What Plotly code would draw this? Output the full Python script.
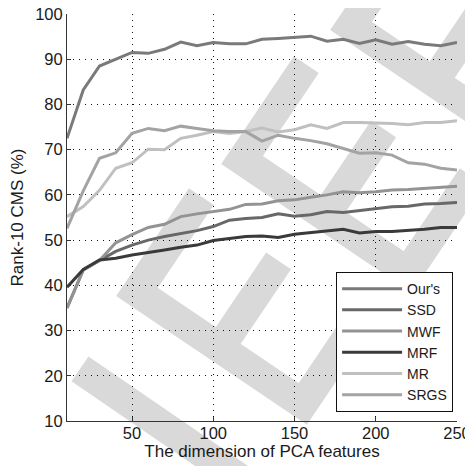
import math
import plotly.graph_objects as go

dims = [10, 20, 30, 40, 50, 60, 70, 80, 90, 100, 110, 120, 130,
        140, 150, 160, 170, 180, 190, 200, 210, 220, 230, 240, 250]

ours = [72.5, 83.2, 88.5, 90.0, 91.5, 91.3, 92.2, 93.8, 93.0, 93.7, 93.4, 93.4, 94.4,
        94.6, 94.8, 95.1, 94.0, 94.4, 93.5, 94.3, 93.3, 93.9, 93.3, 93.0, 93.7]
ssd = [35.0, 43.4, 45.5, 47.5, 48.9, 50.0, 50.8, 51.5, 52.1, 53.0, 54.4, 54.8, 55.0,
       55.8, 55.3, 55.6, 56.3, 56.1, 56.5, 57.0, 57.4, 57.5, 58.0, 58.1, 58.3]
mwf = [35.0, 43.4, 45.5, 49.4, 51.2, 52.8, 53.5, 55.2, 55.8, 56.3, 56.8, 57.9, 58.0,
       58.7, 58.9, 59.5, 60.0, 60.7, 60.5, 60.7, 61.1, 61.2, 61.4, 61.7, 61.9]
mrf = [39.6, 43.5, 45.6, 46.0, 46.7, 47.2, 47.8, 48.4, 48.9, 49.9, 50.4, 50.8, 50.9,
       50.6, 51.3, 51.7, 52.1, 52.4, 51.6, 51.9, 51.9, 52.1, 52.4, 52.8, 52.8]
mr = [55.2, 57.4, 61.0, 65.9, 67.1, 70.1, 70.0, 72.5, 73.2, 74.0, 73.6, 74.0, 74.8,
      73.9, 74.4, 75.5, 74.7, 76.0, 76.0, 75.9, 75.8, 75.5, 76.0, 76.0, 76.4]
srgs = [52.6, 60.9, 68.1, 69.3, 73.6, 74.7, 74.2, 75.2, 74.7, 74.2, 74.0, 74.0, 71.9,
        73.2, 72.5, 72.0, 71.3, 70.3, 69.2, 69.3, 68.8, 67.1, 66.8, 65.9, 65.5]

names = ["Our's", "SSD", "MWF", "MRF", "MR", "SRGS"]
series = [ours, ssd, mwf, mrf, mr, srgs]
colors = ["#7a7a7a", "#686868", "#939393", "#3a3a3a", "#c0c0c0", "#a3a3a3"]

x_ticks = [50, 100, 150, 200, 250]
y_ticks = [10, 20, 30, 40, 50, 60, 70, 80, 90, 100]

# ---- decorative "IEEE" watermark in page pixels (not data) ----
PX0, PX1, PY0, PY1 = 67, 457, 14, 421   # plot area in page pixels
ang_s = math.radians(34)
S = (math.cos(ang_s), math.sin(ang_s))          # spine direction
A = (math.cos(ang_s - math.pi / 2), math.sin(ang_s - math.pi / 2))  # arm direction
SPINE, ARM, MID = 200, 115, 105
e_corners = [(351, 26), (242, 160), (137, 292)]
i_stroke = [(80, 369), (245, 482)]


def mv(p, d, t):
    return (p[0] + d[0] * t, p[1] + d[1] * t)


strokes = []
for k in e_corners:
    bot = mv(k, S, SPINE)
    strokes.append([mv(k, A, ARM), k, bot, mv(bot, A, ARM)])
    mid = mv(k, S, SPINE / 2)
    strokes.append([mid, mv(mid, A, MID)])
strokes.append(i_stroke)


def to_paper(pt):
    X, Y = pt
    return (X - PX0) / (PX1 - PX0), (PY1 - Y) / (PY1 - PY0)


shapes = []
for st in strokes:
    pts = [to_paper(p) for p in st]
    path = "M" + " L".join(f"{x:.4f},{y:.4f}" for x, y in pts)
    shapes.append(dict(type="path", xref="paper", yref="paper", path=path,
                       line=dict(color="#d9d9d9", width=30), layer="below"))

fig = go.Figure()
for name, vals, col in zip(names, series, colors):
    fig.add_trace(go.Scatter(x=dims, y=vals, mode="lines", name=name,
                             line=dict(color=col, width=3)))

font = "Liberation Sans, Arial, sans-serif"
axis_common = dict(ticks="inside", ticklen=4, tickcolor="#333", showline=True,
                   linecolor="#333", linewidth=1, showgrid=True, gridcolor="#111",
                   gridwidth=1, griddash="1px,5px", zeroline=False,
                   tickfont=dict(size=16.5), automargin=False,
                   ticklabeloverflow="allow")
fig.update_layout(
    width=465, height=458,
    margin=dict(l=59, r=16, t=6, b=45),
    paper_bgcolor="white", plot_bgcolor="white",
    font=dict(family=font, size=16, color="#1a1a1a"),
    showlegend=True,
    shapes=shapes,
    legend=dict(x=0.69, y=0.022, xanchor="left", yanchor="bottom",
                bgcolor="white", bordercolor="#111111", borderwidth=1,
                font=dict(size=14, color="#1a1a1a"),
                itemwidth=60, tracegroupgap=0),
    xaxis=dict(range=[10, 250], tickvals=x_ticks, ticklabelstandoff=-3, **axis_common,
               title=dict(text="The dimension of PCA features", font=dict(size=17), standoff=2)),
    yaxis=dict(range=[10, 100], tickvals=y_ticks, **axis_common,
               title=dict(text="Rank-10 CMS (%)", font=dict(size=17), standoff=16)),
)

fig.write_html("out.html")
